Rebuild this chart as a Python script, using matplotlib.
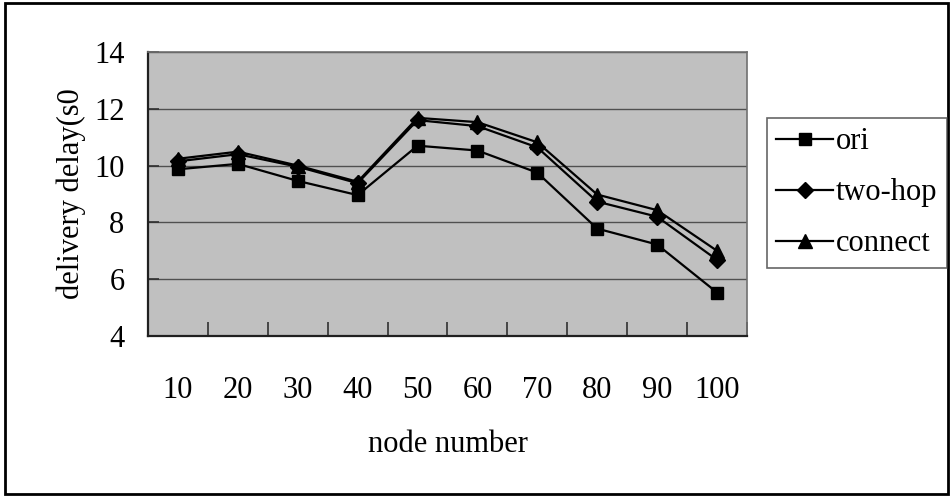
import numpy as np
import matplotlib
matplotlib.use("Agg")
import matplotlib.pyplot as plt
from matplotlib.patches import Rectangle

# node count on the x axis, delay per scheme
nodes = ["10", "20", "30", "40", "50", "60", "70", "80", "90", "100"]
ori = [9.87, 10.06, 9.46, 8.96, 10.70, 10.53, 9.75, 7.78, 7.22, 5.53]
two_hop = [10.15, 10.40, 9.96, 9.38, 11.60, 11.39, 10.64, 8.73, 8.20, 6.68]
connect = [10.24, 10.49, 10.00, 9.43, 11.68, 11.53, 10.82, 8.98, 8.43, 7.00]

plt.rcParams['font.family'] = ['Liberation Serif', 'DejaVu Serif']
fs = 22

fig = plt.figure(figsize=(9.53, 4.97), dpi=100)
ax = fig.add_axes([0.1553, 0.324, 0.6285, 0.5714])
ax.set_facecolor("#c0c0c0")

x = np.arange(len(nodes))
ax.plot(x, ori, color="black", lw=1.6, marker="s", ms=9, label="ori")
ax.plot(x, two_hop, color="black", lw=1.6, marker="D", ms=8, label="two-hop")
ax.plot(x, connect, color="black", lw=1.6, marker="^", ms=10, label="connect")

ax.set_xlim(-0.5, len(nodes) - 0.5)
ax.set_ylim(4, 14)
ax.set_yticks([4, 6, 8, 10, 12, 14])
ax.yaxis.grid(True, color="#505050", lw=1.0)
ax.set_axisbelow(True)

# tick marks between categories, labels centred under each point
ax.set_xticks(np.arange(len(nodes) + 1) - 0.5)
ax.set_xticklabels([])
ax.set_xticks(x, minor=True)
ax.set_xticklabels(nodes, minor=True)
ax.tick_params(axis="x", which="major", direction="in", length=10, width=1.2, color="#303030")
ax.tick_params(axis="x", which="minor", length=0, pad=29, labelsize=fs)
ax.tick_params(axis="y", direction="in", length=8, width=1.2, color="#303030", pad=17, labelsize=fs)

for side in ["left", "bottom"]:
    ax.spines[side].set_color("#202020")
    ax.spines[side].set_linewidth(1.6)
for side in ["top", "right"]:
    ax.spines[side].set_color("#707070")
    ax.spines[side].set_linewidth(1.2)

ax.set_xlabel("node number", fontsize=fs, labelpad=18)
ax.set_ylabel("delivery delay(s0", fontsize=fs, labelpad=6)

leg = fig.legend(loc="center left", bbox_to_anchor=(0.805, 0.612), fontsize=fs,
                 frameon=True, fancybox=False, handlelength=1.85, handletextpad=0.1,
                 labelspacing=0.72, borderpad=0.3, borderaxespad=0)
leg.get_frame().set_edgecolor("#404040")
leg.get_frame().set_linewidth(1.2)

# outer frame around the whole figure
fig.patches.append(Rectangle((0.005, 0.006), 0.99, 0.988, transform=fig.transFigure,
                             fill=False, edgecolor="black", lw=2))

fig.savefig("out.png", dpi=100)
